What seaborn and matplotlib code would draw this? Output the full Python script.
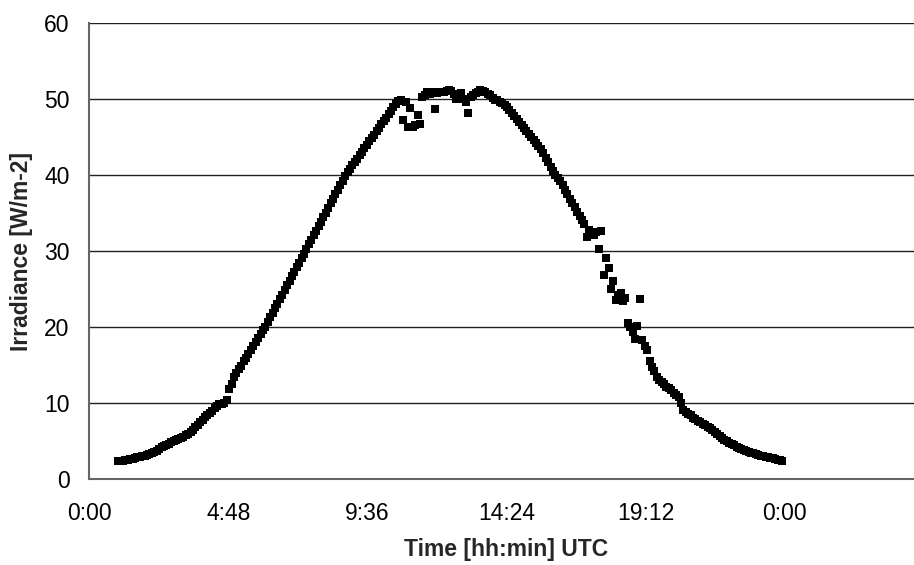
import numpy as np
import pandas as pd
import matplotlib
matplotlib.use("Agg")
import matplotlib.pyplot as plt
import seaborn as sns

# ---- data: irradiance sampled every 5 minutes, starting at 1:00 UTC ----
start_hour = 1.0
step_minutes = 5

early_morning = [  # 1:00 - 4:55
    2.40, 2.43, 2.47, 2.52, 2.58, 2.64, 2.72, 2.80, 2.88, 2.96, 3.04, 3.12,
    3.20, 3.30, 3.40, 3.55, 3.75, 4.00, 4.25, 4.40, 4.55, 4.70, 4.85, 5.00,
    5.15, 5.30, 5.45, 5.60, 5.80, 6.00, 6.25, 6.55, 6.85, 7.15, 7.50, 7.85,
    8.15, 8.45, 8.75, 9.05, 9.35, 9.65, 9.85, 9.95, 10.10, 10.40, 11.90, 12.60,
]
morning = [  # 5:00 - 10:55
    13.40, 13.95, 14.45, 14.95, 15.50, 16.00, 16.50, 17.00, 17.55, 18.05, 18.60, 19.10,
    19.60, 20.10, 20.70, 21.30, 21.90, 22.50, 23.10, 23.70, 24.30, 24.90, 25.50, 26.10,
    26.70, 27.30, 27.90, 28.50, 29.10, 29.70, 30.30, 30.90, 31.50, 32.10, 32.70, 33.30,
    33.90, 34.50, 35.10, 35.70, 36.30, 36.90, 37.50, 38.10, 38.70, 39.30, 39.90, 40.40,
    40.85, 41.30, 41.75, 42.20, 42.65, 43.10, 43.55, 44.00, 44.45, 44.90, 45.35, 45.80,
    46.25, 46.70, 47.15, 47.60, 48.05, 48.50, 48.95, 49.40, 49.80, 49.90, 47.30, 49.70,
]
midday = [  # 11:00 - 16:55
    46.30, 48.80, 46.40, 46.60, 47.90, 46.80, 50.30, 50.50, 51.00, 50.70, 50.90, 48.70,
    50.80, 51.00, 50.90, 51.00, 51.10, 51.20, 51.10, 50.70, 50.10, 50.40, 50.80, 50.00,
    49.70, 48.20, 50.30, 50.50, 50.80, 51.00, 51.20, 51.10, 50.90, 50.70, 50.50, 50.20,
    49.95, 49.85, 49.70, 49.50, 49.30, 49.00, 48.60, 48.20, 47.80, 47.40, 47.00, 46.60,
    46.20, 45.80, 45.40, 45.00, 44.60, 44.20, 43.80, 43.40, 42.90, 42.30, 41.70, 41.10,
    40.60, 40.10, 39.70, 39.30, 38.70, 38.10, 37.50, 36.90, 36.30, 35.80, 35.20, 34.60,
]
evening = [  # 17:00 - 23:55
    34.10, 33.60, 31.90, 32.80, 32.40, 32.10, 32.50, 30.30, 32.70, 26.90, 29.10, 27.80,
    25.10, 26.10, 23.60, 24.20, 24.50, 23.50, 23.80, 20.50, 20.00, 19.40, 18.40, 20.20,
    23.70, 18.30, 17.60, 17.00, 15.50, 14.80, 14.20, 13.50, 13.10, 12.80, 12.50, 12.20,
    12.00, 11.70, 11.40, 11.10, 10.80, 10.00, 9.10, 8.80, 8.60, 8.40, 8.10, 7.90,
    7.70, 7.50, 7.30, 7.10, 6.90, 6.70, 6.50, 6.20, 5.90, 5.70, 5.40, 5.20,
    5.00, 4.80, 4.60, 4.45, 4.30, 4.15, 4.00, 3.85, 3.70, 3.60, 3.50, 3.40,
    3.30, 3.20, 3.12, 3.05, 2.98, 2.90, 2.82, 2.75, 2.68, 2.60, 2.52, 2.45,
]

tick_hours = [0, 4.8, 9.6, 14.4, 19.2, 24.0]
tick_labels = ["0:00", "4:48", "9:36", "14:24", "19:12", "0:00"]
y_ticks = [0, 10, 20, 30, 40, 50, 60]

irradiance = early_morning + morning + midday + evening
hours = start_hour + np.arange(len(irradiance)) * step_minutes / 60.0
df = pd.DataFrame({"hour": hours, "irradiance": irradiance})

# ---- style ----
sns.set_theme(style="white")
plt.rcParams["font.family"] = ["Liberation Sans", "DejaVu Sans"]

fig = plt.figure(figsize=(9.14, 5.65), dpi=100)
ax = fig.add_axes([0.0974, 0.1517, 0.9136, 0.8071])

sns.scatterplot(data=df, x="hour", y="irradiance", marker="s", color="black",
                s=32, linewidth=0, ax=ax, zorder=3)

ax.set_xlim(0, 28.8)
ax.set_ylim(0, 60)
ax.set_xticks(tick_hours)
ax.set_xticklabels(tick_labels)
ax.set_yticks(y_ticks)

ax.yaxis.grid(True, color="#222222", linewidth=1.0)
ax.xaxis.grid(False)
ax.set_axisbelow(True)

for side in ["top", "right"]:
    ax.spines[side].set_visible(False)
for side in ["left", "bottom"]:
    ax.spines[side].set_color("#666666")
    ax.spines[side].set_linewidth(1.5)

ax.tick_params(axis="both", which="major", labelsize=16.5, colors="black",
               length=7, width=1.2, direction="out")
ax.tick_params(axis="x", pad=9, color="#666666")
ax.tick_params(axis="y", pad=7, color="#222222")

ax.set_xlabel("Time [hh:min] UTC", fontsize=16.5, fontweight="bold", labelpad=10)
ax.set_ylabel("Irradiance [W/m-2]", fontsize=16.5, fontweight="bold", labelpad=8)

fig.savefig("out.png", dpi=100)
